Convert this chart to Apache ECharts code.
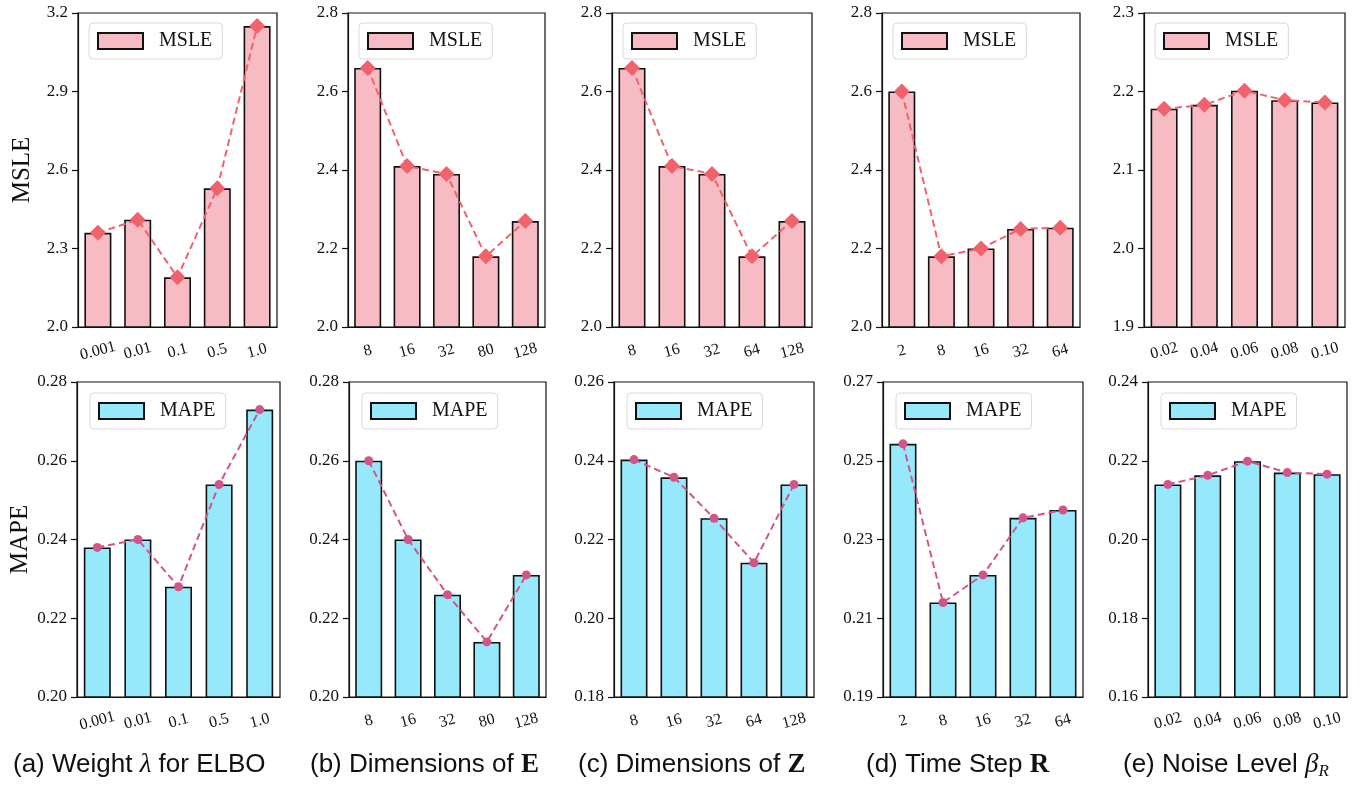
<!DOCTYPE html>
<html>
<head>
<meta charset="utf-8">
<script src="https://cdn.jsdelivr.net/npm/echarts@6/dist/echarts.min.js"></script>
<style>
  html, body { margin: 0; padding: 0; background: #fff; }
  #chart { width: 1362px; height: 785px; }
</style>
</head>
<body>
<div id="chart"></div>
<script>
// categories
var lambdaCats = ['0.001', '0.01', '0.1', '0.5', '1.0'];
var dimECats = ['8', '16', '32', '80', '128'];
var dimZCats = ['8', '16', '32', '64', '128'];
var stepCats = ['2', '8', '16', '32', '64'];
var noiseCats = ['0.02', '0.04', '0.06', '0.08', '0.10'];

// MSLE (top row)
var msleLambda = [2.36, 2.41, 2.19, 2.53, 3.15];
var msleDimE = [2.66, 2.41, 2.39, 2.18, 2.27];
var msleDimZ = [2.66, 2.41, 2.39, 2.18, 2.27];
var msleStep = [2.60, 2.18, 2.20, 2.25, 2.253];
var msleNoise = [2.178, 2.183, 2.201, 2.189, 2.186];

// MAPE (bottom row)
var mapeLambda = [0.238, 0.240, 0.228, 0.254, 0.273];
var mapeDimE = [0.260, 0.240, 0.226, 0.214, 0.231];
var mapeDimZ = [0.2403, 0.2358, 0.2254, 0.2141, 0.234];
var mapeStep = [0.2543, 0.214, 0.221, 0.2355, 0.2375];
var mapeNoise = [0.214, 0.2163, 0.2199, 0.217, 0.2166];

// y axis [min, max, step] for each panel
var msleTicks = [[2.0, 3.2, 0.3], [2.0, 2.8, 0.2], [2.0, 2.8, 0.2], [2.0, 2.8, 0.2], [1.9, 2.3, 0.1]];
var mapeTicks = [[0.20, 0.28, 0.02], [0.20, 0.28, 0.02], [0.18, 0.26, 0.02], [0.19, 0.27, 0.02], [0.16, 0.24, 0.02]];

var cats = [lambdaCats, dimECats, dimZCats, stepCats, noiseCats];
var msle = [msleLambda, msleDimE, msleDimZ, msleStep, msleNoise];
var mape = [mapeLambda, mapeDimE, mapeDimZ, mapeStep, mapeNoise];

var chart = echarts.init(document.getElementById('chart'));

var serif = 'Liberation Serif';
var ink = '#111';

// panel frames
var rows = [
  { top: 13, height: 314, lefts: [78, 348, 612, 882, 1144], widths: [199, 197, 200, 198, 201] },
  { top: 382, height: 315, lefts: [77, 349, 614, 883, 1148], widths: [203, 197, 200, 200, 199] }
];

var grid = [], xAxis = [], yAxis = [], series = [], legend = [];

for (var r = 0; r < 2; r++) {
  var isTop = r === 0;
  var name = isTop ? 'MSLE' : 'MAPE';
  var barColor = isTop ? '#f7bcc3' : '#96e9fb';
  var lineColor = isTop ? '#f0626c' : '#d2558a';
  for (var i = 0; i < 5; i++) {
    var idx = r * 5 + i;
    var t = isTop ? msleTicks[i] : mapeTicks[i];
    var vals = isTop ? msle[i] : mape[i];
    var row = rows[r];
    grid.push({
      left: row.lefts[i], top: row.top, width: row.widths[i], height: row.height,
      show: true, borderColor: ink, borderWidth: 1.2
    });
    xAxis.push({
      type: 'category', gridIndex: idx, data: cats[i],
      axisLine: { lineStyle: { color: ink, width: 1.2 } },
      axisTick: { alignWithLabel: true, length: 6, lineStyle: { color: ink, width: 1.2 } },
      axisLabel: {
        interval: 0, rotate: 15, margin: 24, align: 'center', verticalAlign: 'middle',
        fontFamily: serif, fontSize: 16, color: ink
      },
      splitLine: { show: false }
    });
    yAxis.push({
      type: 'value', gridIndex: idx, min: t[0], max: t[1], interval: t[2],
      name: i === 0 ? name : '', nameLocation: 'middle', nameGap: 43, nameRotate: 90,
      nameTextStyle: { fontFamily: serif, fontSize: 25, color: ink },
      axisLine: { show: true, lineStyle: { color: ink, width: 1.2 } },
      axisTick: { show: true, length: 6, lineStyle: { color: ink, width: 1.2 } },
      axisLabel: {
        margin: 10, fontFamily: serif, fontSize: 17, color: ink,
        formatter: (function (d) { return function (v) { return v.toFixed(d); }; })(isTop ? 1 : 2)
      },
      splitLine: { show: false }
    });
    series.push({
      type: 'bar', name: name, xAxisIndex: idx, yAxisIndex: idx,
      data: vals, barWidth: 27,
      itemStyle: { color: barColor, borderColor: ink, borderWidth: 1.6 },
      z: 2
    });
    series.push({
      type: 'line', name: name + '-trend-' + i, xAxisIndex: idx, yAxisIndex: idx,
      data: vals,
      symbol: isTop ? 'diamond' : 'circle', symbolSize: isTop ? 16 : 9,
      lineStyle: { color: lineColor, width: 2, type: [7, 4] },
      itemStyle: { color: lineColor },
      z: 3
    });
    legend.push({
      left: row.lefts[i] + (isTop ? 11 : 13), top: row.top + (isTop ? 10 : 11),
      data: [name], icon: 'rect', itemWidth: 45, itemHeight: 16,
      padding: [8, 10, 8, 8], borderColor: '#d9d9d9', borderWidth: 1, borderRadius: 4,
      backgroundColor: 'rgba(255,255,255,0.8)', selectedMode: false,
      textStyle: { fontFamily: serif, fontSize: 20, color: ink, padding: [0, 0, 0, 11] }
    });
  }
}

var capRich = {
  b: { fontFamily: serif, fontWeight: 'bold', fontSize: 27, fill: ink },
  i: { fontFamily: serif, fontStyle: 'italic', fontSize: 27, fill: ink },
  sub: { fontFamily: serif, fontStyle: 'italic', fontSize: 17, fill: ink, padding: [14, 0, 0, 0] }
};
var captions = [
  { x: 13, text: '(a) Weight {i|λ} for ELBO' },
  { x: 310, text: '(b) Dimensions of {b|E}' },
  { x: 578, text: '(c) Dimensions of {b|Z}' },
  { x: 866, text: '(d) Time Step {b|R}' },
  { x: 1123, text: '(e) Noise Level {i|β}{sub|R}' }
];

var option = {
  animation: false,
  grid: grid,
  xAxis: xAxis,
  yAxis: yAxis,
  legend: legend,
  series: series,
  graphic: captions.map(function (c) {
    return {
      type: 'text', x: c.x, y: 765,
      style: {
        text: c.text, rich: capRich, fontFamily: 'Liberation Sans', fontSize: 26,
        fill: ink, align: 'left', verticalAlign: 'middle'
      }
    };
  })
};

chart.setOption(option);
</script>
</body>
</html>
